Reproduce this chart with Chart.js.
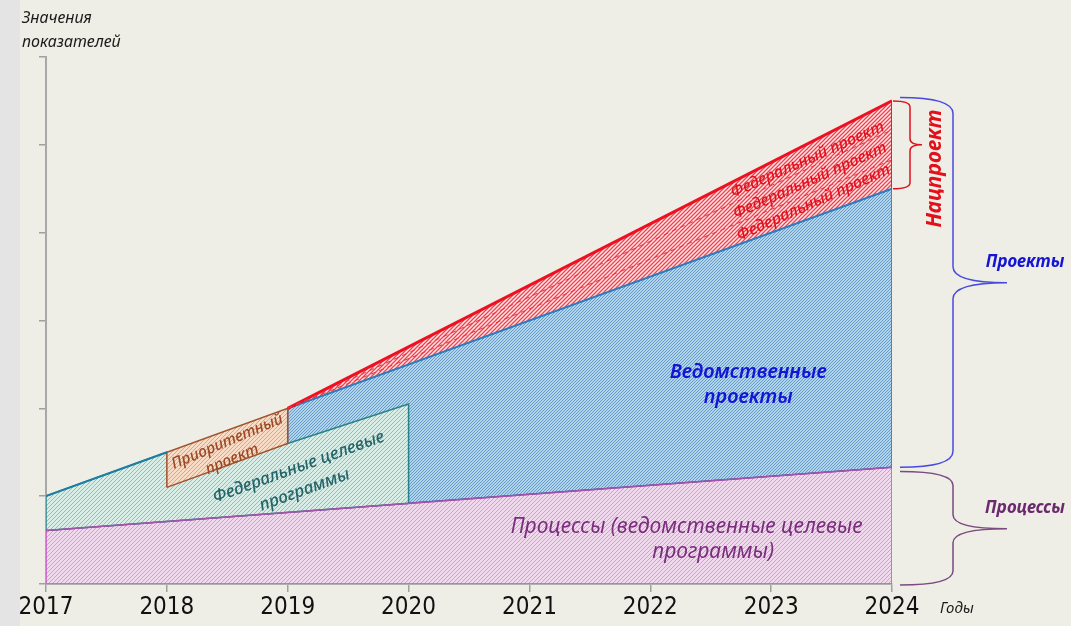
<!DOCTYPE html>
<html>
<head>
<meta charset="utf-8">
<script src="https://cdn.jsdelivr.net/npm/chart.js@4.4.1/dist/chart.umd.min.js"></script>
<style>
  html, body { margin: 0; padding: 0; }
  body {
    width: 1071px; height: 626px; overflow: hidden;
    background: linear-gradient(to right, #e4e4e4 0, #e4e4e4 20px, #eeeee6 20px);
  }
  #wrap { position: relative; width: 1071px; height: 626px; }
</style>
</head>
<body>
<div id="wrap"><canvas id="chart"></canvas></div>
<script>
/* ── data: years on x, "значения показателей" on y (условные единицы) ── */
const YEARS   = [2017, 2018, 2019, 2020, 2021, 2022, 2023, 2024];
const Y_TICKS = [0, 1, 2, 3, 4, 5, 6];

// Процессы (ведомственные целевые программы)
const PROC_X = [2017, 2017, 2024, 2024, 2017];
const PROC_Y = [0,    0.61, 1.33, 0,    0];
// top edge of processes
const PROC_TOP_X = [2017, 2024];
const PROC_TOP_Y = [0.61, 1.33];

// Ведомственные проекты
const DEPT_X = [2019, 2024, 2024, 2019, 2019];
const DEPT_Y = [2.0,  4.5,  1.33, 0.82, 2.0];

// Федеральные целевые программы
const FTP_X = [2017, 2017, 2018, 2019, 2020, 2020, 2017];
const FTP_Y = [0.61, 1.0,  1.5,  1.6,  2.05, 0.92, 0.61];

// Приоритетный проект
const PRIO_X = [2018, 2018, 2019, 2019, 2018];
const PRIO_Y = [1.1,  1.5,  2.0,  1.6,  1.1];

// Федеральные проекты (нацпроект)
const FED_X = [2019, 2024, 2024, 2019];
const FED_Y = [2.0,  5.5,  4.5,  2.0];
const FED_SPLIT_Y = [4.83, 5.17];   // dashed borders between federal projects at 2024

const pts = (xs, ys) => xs.map((x, i) => ({ x, y: ys[i] }));

/* ── hatch patterns ── */
function hatch(bg, fg, size, lw) {
  const c = document.createElement('canvas');
  c.width = size; c.height = size;
  const g = c.getContext('2d');
  g.fillStyle = bg; g.fillRect(0, 0, size, size);
  g.strokeStyle = fg; g.lineWidth = lw;
  g.beginPath();
  g.moveTo(-1, size + 1); g.lineTo(size + 1, -1);
  g.moveTo(-1, 1); g.lineTo(1, -1);
  g.moveTo(size - 1, size + 1); g.lineTo(size + 1, size - 1);
  g.stroke();
  return g.createPattern(c, 'repeat');
}
const PAT_PROC = hatch('#f1d9ed', '#d59ccd', 4, 1);
const PAT_DEPT = hatch('#b0d5ea', '#5f94c6', 3, 0.9);
const PAT_FTP  = hatch('#d8ede5', '#8ec3b4', 4, 1);
const PAT_PRIO = hatch('#f8dcc6', '#e2a27e', 4, 1);
const PAT_FED  = hatch('#fde8e8', '#ea4450', 4, 1.3);

function poly(xs, ys, fill, border, order, bw) {
  return {
    data: pts(xs, ys), showLine: true, fill: 'shape',
    backgroundColor: fill, borderColor: border, borderWidth: bw,
    pointRadius: 0, tension: 0, order
  };
}
function edge(xs, ys, color, width, order, dash) {
  return {
    data: pts(xs, ys), showLine: true, fill: false,
    borderColor: color, borderWidth: width, borderDash: dash || [],
    pointRadius: 0, tension: 0, order
  };
}

/* ── labels & braces plugin ── */
const FONT = "'Noto Sans', 'Open Sans', sans-serif";
function txt(ctx, s, x, y, font, color, rot) {
  ctx.save();
  ctx.translate(x, y);
  if (rot) ctx.rotate(rot * Math.PI / 180);
  ctx.font = font; ctx.fillStyle = color;
  ctx.textAlign = 'center'; ctx.textBaseline = 'middle';
  ctx.fillText(s, 0, 0);
  ctx.restore();
}
function brace(ctx, x0, x1, x2, yT, yB, yM, r, color, lw) {
  ctx.save();
  ctx.strokeStyle = color; ctx.lineWidth = lw;
  ctx.beginPath();
  ctx.moveTo(x0, yT);
  ctx.quadraticCurveTo(x1, yT, x1, yT + r);
  ctx.lineTo(x1, yM - r);
  ctx.quadraticCurveTo(x1, yM, x2, yM);
  ctx.moveTo(x2, yM);
  ctx.quadraticCurveTo(x1, yM, x1, yM + r);
  ctx.lineTo(x1, yB - r);
  ctx.quadraticCurveTo(x1, yB, x0, yB);
  ctx.stroke();
  ctx.restore();
}
const annotations = {
  id: 'annotations',
  afterDraw(chart) {
    const { ctx } = chart;
    const X = v => chart.scales.x.getPixelForValue(v);
    const Y = v => chart.scales.y.getPixelForValue(v);
    const x24 = X(2024);

    // axis titles
    ctx.save();
    ctx.font = `italic 16px ${FONT}`; ctx.fillStyle = '#1a1a1a';
    ctx.textAlign = 'left'; ctx.textBaseline = 'alphabetic';
    ctx.fillText('Значения', 22, 23);
    ctx.fillText('показателей', 22, 47);
    ctx.font = `italic 15px ${FONT}`;
    ctx.fillText('Годы', x24 + 48, 613);
    ctx.restore();

    // region labels
    const proc = '#7a2c7d';
    txt(ctx, 'Процессы (ведомственные целевые', X(2022.30), Y(0.65), `italic 21px ${FONT}`, proc);
    txt(ctx, 'программы)', X(2022.52), Y(0.36), `italic 21px ${FONT}`, proc);

    const blue = '#1414d6';
    txt(ctx, 'Ведомственные', X(2022.81), Y(2.41), `italic 600 20px ${FONT}`, blue);
    txt(ctx, 'проекты', X(2022.81), Y(2.12), `italic 600 20px ${FONT}`, blue);

    const teal = '#236468';
    txt(ctx, 'Федеральные целевые', X(2019.09), Y(1.33), `italic 500 17px ${FONT}`, teal, -20);
    txt(ctx, 'программы', X(2019.14), Y(1.07), `italic 500 17px ${FONT}`, teal, -20);

    const brown = '#9c4824';
    txt(ctx, 'Приоритетный', X(2018.50), Y(1.62), `italic 500 15.5px ${FONT}`, brown, -23);
    txt(ctx, 'проект', X(2018.54), Y(1.42), `italic 500 15.5px ${FONT}`, brown, -23);

    const red = '#e3101c';
    txt(ctx, 'Федеральный проект', X(2023.30), Y(4.83), `italic 500 16px ${FONT}`, red, -24);
    txt(ctx, 'Федеральный проект', X(2023.32), Y(4.59), `italic 500 16px ${FONT}`, red, -24);
    txt(ctx, 'Федеральный проект', X(2023.35), Y(4.34), `italic 500 16px ${FONT}`, red, -24);

    txt(ctx, 'Нацпроект', x24 + 43, Y(4.73), `italic bold 21px ${FONT}`, red, -90);
    txt(ctx, 'Проекты', x24 + 133, Y(3.66), `italic bold 17px ${FONT}`, '#1515d4');
    txt(ctx, 'Процессы', x24 + 133, Y(0.86), `italic bold 17px ${FONT}`, '#6b2a6e');

    // braces
    brace(ctx, x24 + 1, x24 + 18, x24 + 30, Y(5.5), Y(4.5), Y(5.0), 6, '#e3101c', 1.5);
    brace(ctx, x24 + 8, x24 + 61, x24 + 115, Y(5.54), Y(1.33), Y(3.43), 16, '#4a4ae0', 1.5);
    brace(ctx, x24 + 8, x24 + 61, x24 + 115, Y(1.28), Y(-0.01), Y(0.63), 14, '#7a4a80', 1.5);
  }
};

/* ── chart ── */
new Chart(document.getElementById('chart'), {
  type: 'scatter',
  data: {
    datasets: [
      poly(PROC_X, PROC_Y, PAT_PROC, '#c652c6', 9, 1.5),
      poly(DEPT_X, DEPT_Y, PAT_DEPT, '#2556a6', 8, 1.2),
      poly(FTP_X, FTP_Y, PAT_FTP, '#2a8088', 7, 1.5),
      poly(PRIO_X, PRIO_Y, PAT_PRIO, '#a0522d', 6, 1.5),
      poly(FED_X, FED_Y, PAT_FED, '#e3101c', 5, 1),
      edge(PROC_TOP_X, PROC_TOP_Y, '#a552a8', 1.5, 4),
      edge([2017, 2018], [1.0, 1.5], '#1e7ea2', 2, 3),
      edge([2019, 2024], [2.0, 4.5], '#2a7ec4', 2, 2),
      edge([2019, 2024], [2.0, 5.5], '#ee1020', 3, 1),
      edge([2019, 2024], [2.0, FED_SPLIT_Y[0]], '#ee3040', 1, 0, [5, 4]),
      edge([2019, 2024], [2.0, FED_SPLIT_Y[1]], '#ee3040', 1, 0, [5, 4])
    ]
  },
  options: {
    responsive: true,
    maintainAspectRatio: false,
    animation: false,
    layout: { padding: { left: 16, top: 57, right: 179, bottom: 0 } },
    plugins: { legend: { display: false }, tooltip: { enabled: false } },
    scales: {
      x: {
        type: 'linear', min: YEARS[0], max: YEARS[YEARS.length - 1],
        afterBuildTicks: s => { s.ticks = YEARS.map(v => ({ value: v })); },
        afterFit: s => { s.height = 42; },
        border: { color: '#b0b0b0', width: 2 },
        grid: { drawOnChartArea: false, color: '#a0a0a0', tickLength: 8, lineWidth: 1.5 },
        ticks: {
          color: '#111111', padding: 1, maxRotation: 0,
          font: { family: "'DejaVu Sans Condensed', sans-serif", size: 24, weight: '500' },
          callback: v => String(v)
        }
      },
      y: {
        type: 'linear', min: Y_TICKS[0], max: Y_TICKS[Y_TICKS.length - 1],
        afterBuildTicks: s => { s.ticks = Y_TICKS.map(v => ({ value: v })); },
        afterFit: s => { s.width = 30; },
        border: { color: '#a8a8a8', width: 2 },
        grid: { drawOnChartArea: false, color: '#a0a0a0', tickLength: 7, lineWidth: 1.5 },
        ticks: { callback: () => '' }
      }
    }
  },
  plugins: [annotations]
});
</script>
</body>
</html>
